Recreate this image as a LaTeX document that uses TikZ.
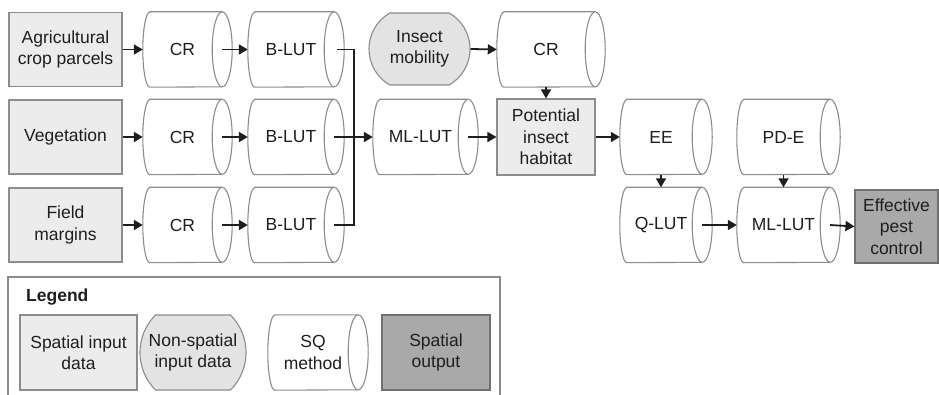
\documentclass[tikz,border=0pt]{standalone}
\usepackage{fontspec}
\setmainfont{Liberation Sans}
\usetikzlibrary{arrows.meta,shapes.misc,calc}

\definecolor{edgegray}{HTML}{8C8C8C}
\definecolor{lightfill}{HTML}{ECECEC}
\definecolor{darkfill}{HTML}{A9A9A9}
\definecolor{inkcol}{HTML}{1E1E1E}

% outline of a horizontal cylinder (SQ method) around a named node:
% the node spans from the left bulge to the centre of the right end ellipse
\newcommand\sqdraw[1]{%
  \draw[sqline] ([xshift=7pt]#1.north west) -- (#1.north east)
    arc[start angle=90,end angle=-90,x radius=10pt,y radius=37.5pt]
    -- ([xshift=7pt]#1.south west)
    arc[start angle=270,end angle=90,x radius=7pt,y radius=37.5pt] -- cycle;
  \draw[sqline] (#1.north east)
    arc[start angle=90,end angle=270,x radius=10pt,y radius=37.5pt];}

\tikzset{
  base/.style={font=\fontsize{17.5}{21.5}\selectfont, text=inkcol,
    align=center, inner sep=0pt},
  spatial/.style={base, draw=edgegray, fill=lightfill, line width=1.1pt,
    minimum height=74pt},
  nonspatial/.style={base, draw=edgegray, fill=lightfill!96!black, line width=1.1pt,
    rounded rectangle, rounded rectangle arc length=120, minimum height=72pt},
  sqm/.style={base, minimum height=75pt},
  outbox/.style={base, draw=edgegray!80!black, fill=darkfill, line width=1.1pt,
    minimum height=74pt},
  sqline/.style={draw=edgegray, line width=1.1pt},
  conn/.style={draw=inkcol, line width=1.8pt},
  flow/.style={conn, -{Triangle[length=9pt,width=10pt]}},
}

\begin{document}
\begin{tikzpicture}[x=1pt,y=-1pt]
\useasboundingbox (0,0) rectangle (939,395);
\clip (0,0) rectangle (939,395);

% spatial inputs
\node[spatial, minimum width=113pt] (agri)  at (65.5,49.5) {Agricultural\\crop parcels};
\node[spatial, minimum width=113pt] (veg)   at (65.5,137)  {Vegetation};
\node[spatial, minimum width=113pt] (field) at (65.5,225)  {Field\\margins};

% SQ methods, first columns
\node[sqm, minimum width=79pt] (cr1) at (182.5,49.5) {CR};
\node[sqm, minimum width=79pt] (cr2) at (182.5,137)  {CR};
\node[sqm, minimum width=79pt] (cr3) at (182.5,225)  {CR};
\node[sqm, minimum width=86pt] (bl1) at (291,49.5) {B-LUT};
\node[sqm, minimum width=86pt] (bl2) at (291,137)  {B-LUT};
\node[sqm, minimum width=86pt] (bl3) at (291,225)  {B-LUT};

% habitat part
\node[nonspatial, minimum width=101pt] (mob) at (419.5,49) {Insect\\mobility};
\node[sqm, minimum width=98pt] (crm) at (546,49.5) {CR};
\node[sqm, minimum width=95pt] (mlu) at (420.5,137) {ML-LUT};
\node[spatial, minimum width=98pt, minimum height=76pt] (pot) at (546,137) {Potential\\insect\\habitat};

% pest control part
\node[sqm, minimum width=82pt] (ee)   at (661,137)   {EE};
\node[sqm, minimum width=93pt] (pde)  at (783.5,137) {PD-E};
\node[sqm, minimum width=82pt] (qlut) at (661,225)   {Q-LUT};
\node[sqm, minimum width=93pt] (mlb)  at (783.5,225) {ML-LUT};
\node[outbox, minimum width=83pt, minimum height=73pt] (eff) at (896.5,226.5) {Effective\\pest\\control};

\foreach \n in {cr1,cr2,cr3,bl1,bl2,bl3,crm,mlu,ee,pde,qlut,mlb} {\sqdraw{\n}}

% connectors
\draw[flow] (agri.east)  -- (cr1.west);
\draw[flow] (veg.east)   -- (cr2.west);
\draw[flow] (field.east) -- (cr3.west);
\draw[flow] (cr1.east) -- (bl1.west);
\draw[flow] (cr2.east) -- (bl2.west);
\draw[flow] (cr3.east) -- (bl3.west);

\coordinate (bus) at (354,0);
\draw[conn] ([xshift=3pt]bl1.east) -- (bus |- bl1.east) -- (bus |- bl3.east)
  -- (bl3.east);
\draw[flow] (bl2.east) -- (mlu.west);

\draw[flow] (mob.east) -- (crm.west);
\draw[flow] (crm.south) -- (pot.north);
\draw[flow] (mlu.east) -- (pot.west);
\draw[flow] (pot.east) -- (ee.west);
\draw[flow] (ee.south)  -- (qlut.north);
\draw[flow] (pde.south) -- (mlb.north);
\draw[flow] (qlut.east) -- (mlb.west);
\draw[flow] (mlb.east) -- (eff.west);

% legend
\draw[sqline] (8,277) rectangle (500,420);
\node[base, anchor=west, font=\fontsize{17.5}{21.5}\selectfont\bfseries] (legtitle) at (26,297) {Legend};
\node[spatial, minimum width=117pt, minimum height=75pt] (lsp) at (78.5,352.5) {Spatial input\\data};
\node[nonspatial, rounded rectangle arc length=90, minimum width=90pt, minimum height=75pt] (lns) at (193,352.5) {Non-spatial\\input data};
\node[sqm, minimum width=90pt] (lsq) at (313,352.5) {SQ\\method};
\sqdraw{lsq}
\node[outbox, minimum width=108pt, minimum height=75pt] (lso) at (436,352.5) {Spatial\\output};
\end{tikzpicture}
\end{document}
